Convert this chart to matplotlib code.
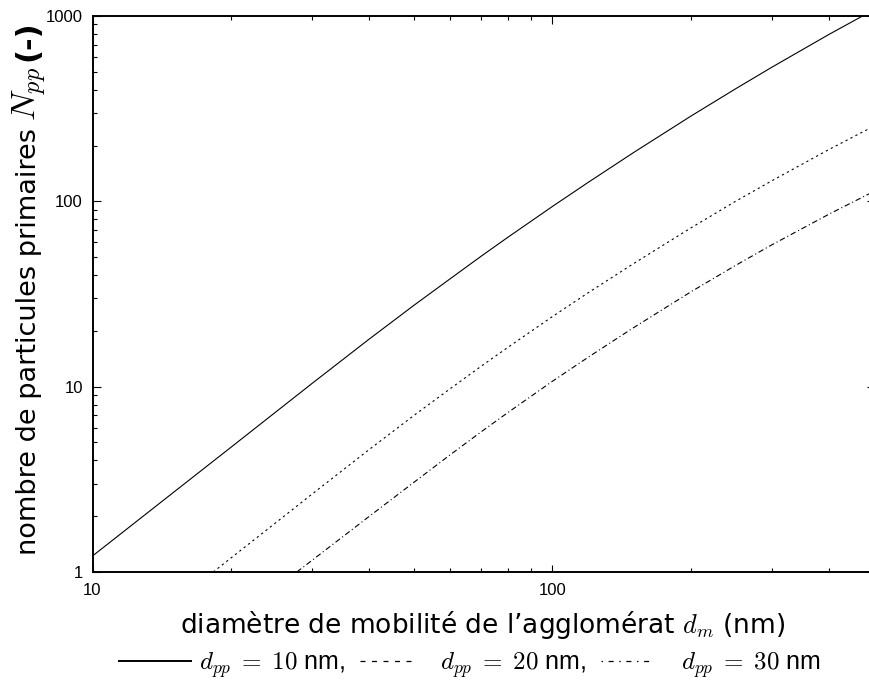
import matplotlib
matplotlib.use("Agg")
import matplotlib.pyplot as plt
from matplotlib.ticker import LogLocator, NullFormatter, FuncFormatter
from matplotlib.lines import Line2D

# data
d_m_10 = [10, 15, 20, 30, 40, 50, 60, 70, 80, 100, 120, 150, 200, 250, 300, 400, 500]
N_pp_10 = [1.22, 2.69, 4.71, 10.4, 18.1, 27.5, 38.3, 50.6, 64.0, 93.9, 127.3, 183.2,
           288.4, 404.6, 529.6, 798, 1081]

d_m_20 = [18.3, 20, 25, 30, 40, 50, 60, 70, 80, 100, 120, 150, 200, 250, 300, 400, 500]
N_pp_20 = [1.0, 1.19, 1.84, 2.63, 4.59, 7.00, 9.77, 12.9, 16.3, 23.9, 32.3, 46.1,
           71.9, 100, 129.2, 191, 254.7]

d_m_30 = [27.8, 30, 40, 50, 60, 70, 80, 100, 120, 150, 200, 250, 300, 400, 500]
N_pp_30 = [1.0, 1.155, 2.00, 3.05, 4.30, 5.71, 7.25, 10.7, 14.5, 20.8, 32.5, 45.1,
           58.3, 85.5, 113.2]

legend_labels = [r"$d_{pp}\;=\;10$ nm,", r"$d_{pp}\;=\;20$ nm,", r"$d_{pp}\;=\;30$ nm"]
x_label = r"diamètre de mobilité de l’agglomérat $d_m$ (nm)"
y_label_parts = ["nombre de particules primaires", r"$N_{pp}$", "(-)"]

plt.rcParams['mathtext.fontset'] = 'cm'
plt.rcParams['font.family'] = ['DejaVu Sans']

W, H = 869, 687
fig = plt.figure(figsize=(W / 100, H / 100), dpi=100)
ax = fig.add_axes([92.5 / W, (H - 572) / H, (874 - 92.5) / W, (572 - 16) / H])

styles = ['-', (0, (2, 3)), (0, (5, 2.5, 1, 2.5))]
series = [(d_m_10, N_pp_10), (d_m_20, N_pp_20), (d_m_30, N_pp_30)]
for (x, y), ls in zip(series, styles):
    ax.plot(x, y, color='k', lw=0.8, ls=ls)

ax.set_xscale('log')
ax.set_yscale('log')
ax.set_xlim(10, 500)
ax.set_ylim(1, 1000)

fmt = FuncFormatter(lambda v, p: f"{v:g}")
for axis in (ax.xaxis, ax.yaxis):
    axis.set_major_locator(LogLocator(base=10, numticks=10))
    axis.set_minor_locator(LogLocator(base=10, subs=range(2, 10), numticks=20))
    axis.set_major_formatter(fmt)
    axis.set_minor_formatter(NullFormatter())

ax.tick_params(which='both', direction='in', top=True, right=True, width=0.8)
ax.tick_params(which='major', length=5.4)
ax.tick_params(which='minor', length=2.6)
ax.tick_params(axis='x', which='major', pad=8)
ax.tick_params(axis='y', which='major', pad=7)
for lab in ax.get_xticklabels() + ax.get_yticklabels():
    lab.set_fontfamily('Liberation Sans')
    lab.set_fontsize(12)

for sp in ax.spines.values():
    sp.set_linewidth(1.4)

# x label
fig.text(483 / W, 1 - 633 / H, x_label, fontsize=19, ha='center', va='baseline')

# y label built from parts (text, larger math, bold unit)
renderer = fig.canvas.get_renderer()
part_sizes = [19.5, 25, 22]
part_weights = ['normal', 'normal', 'bold']
part_gaps = [0, 7, 6]
y_cur = H - 555
for txt, fs, fw, gap in zip(y_label_parts, part_sizes, part_weights, part_gaps):
    y_cur += gap
    t = fig.text(36 / W, y_cur / H, txt, rotation=90, rotation_mode='anchor',
                 ha='left', va='baseline', fontsize=fs, fontweight=fw)
    bb = t.get_window_extent(renderer=renderer)
    y_cur = bb.y1

handle_styles = ['-',
                 (0, (4, 5.2, 4, 5.2, 4, 5.2, 4, 5.2, 4, 30)),
                 (0, (1.2, 4.5, 4, 4.5, 1.2, 4.5, 4, 4.5, 1.2, 4.5, 4, 30))]
handles = [Line2D([], [], color='k', lw=1.4 if i == 0 else 0.9, ls=ls)
           for i, ls in enumerate(handle_styles)]
fs_leg = 18
px = fs_leg * 100 / 72
fig.legend(handles, legend_labels, loc='center', bbox_to_anchor=(470 / W, 1 - 665 / H),
           ncol=3, frameon=False, handlelength=72 / px, handletextpad=8 / px,
           columnspacing=15 / px, borderpad=0, borderaxespad=0,
           prop={'family': 'Liberation Sans', 'size': fs_leg})

fig.savefig('out.png', dpi=100)
